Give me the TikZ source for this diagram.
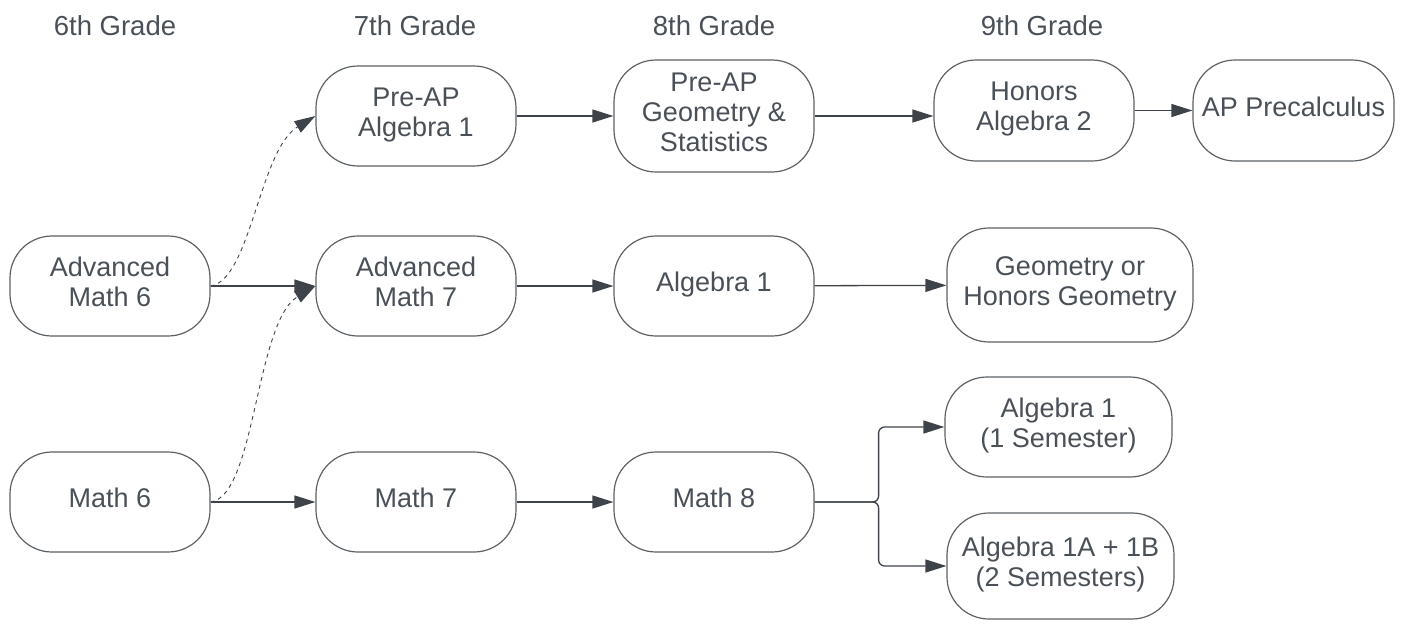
\documentclass[tikz,border=0pt]{standalone}
\usepackage{fontspec}
\setmainfont{Liberation Sans}
\usepackage{tikz}
\usetikzlibrary{arrows.meta,positioning}

\definecolor{boxline}{HTML}{5C6166}
\definecolor{boxtext}{HTML}{4A5058}
\definecolor{arrline}{HTML}{3D4349}

\begin{document}
\begin{tikzpicture}[x=1pt, y=-1pt,
  course/.style={draw=boxline, line width=1.2pt, rounded corners=42pt, align=center,
    minimum width=200pt, minimum height=100pt, inner sep=0pt, text=boxtext,
    text depth=8pt, font=\fontsize{27}{30}\selectfont},
  grade/.style={text=boxtext, font=\fontsize{27.5}{30}\selectfont},
  arr/.style={arrline, line width=1.3pt, -{Triangle[length=21pt, width=13pt]}},
  maybe/.style={arr, line width=0.9pt, dash pattern=on 4pt off 4pt}]

  \useasboundingbox (0,0) rectangle (1406,624);

  % Grade headers
  \foreach \g/\x in {6/115, 7/415, 8/714, 9/1042} {
    \node[grade] (head\g) at (\x,26) {\g th Grade};
  }

  % Top track
  \node[course] (preapalg) at (416,116) {Pre-AP\\Algebra 1};
  \node[course, minimum height=112pt] (preapgeo) at (714,116) {Pre-AP\\Geometry \&\\Statistics};
  \node[course, minimum height=101pt] (honalg) at (1034,110.5) {Honors\\Algebra 2};
  \node[course, minimum width=201pt, minimum height=101pt] (apprecalc) at (1293.5,110.5) {AP Precalculus};

  % Advanced track
  \node[course] (advsix) at (110,286) {Advanced\\Math 6};
  \node[course] (advseven) at (416,286) {Advanced\\Math 7};
  \node[course] (algone) at (714,286) {Algebra 1};
  \node[course, minimum width=246pt, minimum height=114pt] (geom) at (1070,285) {Geometry or\\Honors Geometry};

  % Regular track
  \node[course] (mathsix) at (110,502) {Math 6};
  \node[course] (mathseven) at (416,502) {Math 7};
  \node[course] (matheight) at (714,502) {Math 8};
  \node[course, minimum width=227pt] (algsem) at (1058.5,427) {Algebra 1\\(1 Semester)};
  \node[course, minimum width=227pt, minimum height=106pt] (algab) at (1060.5,566) {Algebra 1A + 1B\\(2 Semesters)};

  % Solid connectors
  \draw[arr] (preapalg) -- (preapgeo);
  \draw[arr] (preapgeo.east) -- (preapgeo.east -| honalg.west);
  \draw[arr] (honalg) -- (apprecalc);
  \draw[arr] (advsix) -- (advseven);
  \draw[arr] (advseven) -- (algone);
  \draw[arr] (algone) -- (geom);
  \draw[arr] (mathsix) -- (mathseven);
  \draw[arr] (mathseven) -- (matheight);

  % Split after Math 8
  \coordinate (fork) at ([xshift=64pt]matheight.east);
  \draw[arr, rounded corners=6pt] (matheight.east) -- (fork) |- (algsem.west);
  \draw[arr, rounded corners=6pt] (matheight.east) -- (fork) |- (algab.west);

  % Optional acceleration (dashed)
  \draw[maybe] (advsix.east) .. controls ([shift={(40,-6)}]advsix.east) and ([shift={(-56,34)}]preapalg.west) .. (preapalg.west);
  \draw[maybe] (mathsix.east) .. controls ([shift={(45,-6)}]mathsix.east) and ([shift={(-60,36)}]advseven.west) .. (advseven.west);

\end{tikzpicture}
\end{document}
